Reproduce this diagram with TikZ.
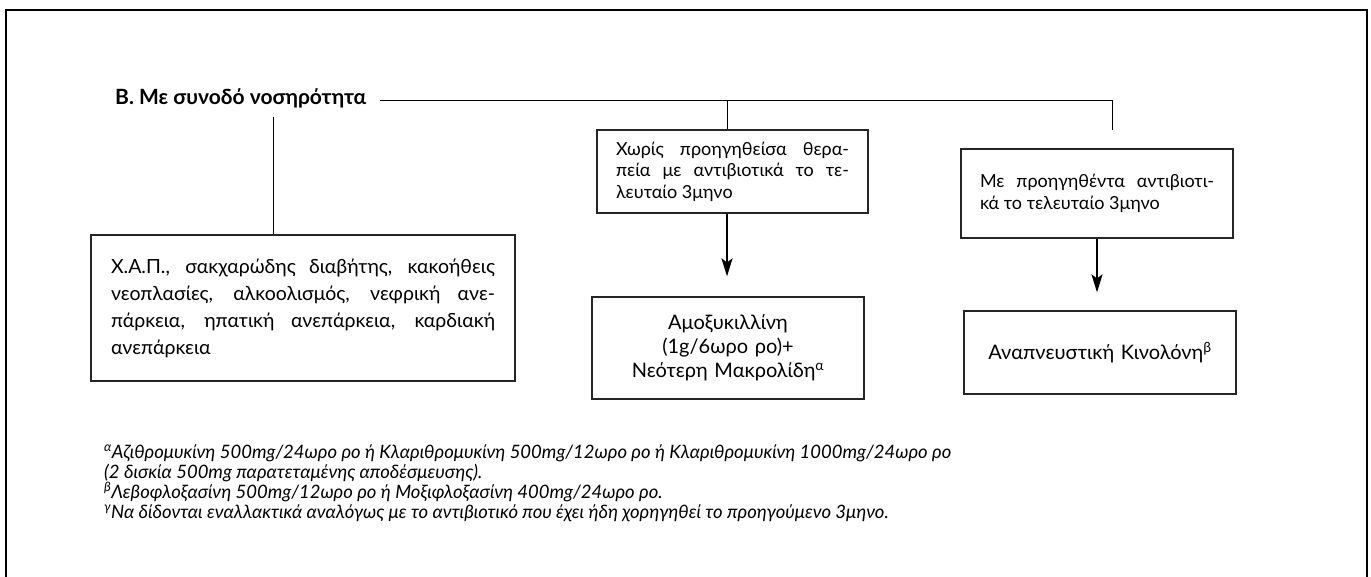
\documentclass[tikz,border=0pt]{standalone}
\usepackage{fontspec}
\setmainfont{Lato}
\usetikzlibrary{arrows.meta,positioning}
\tikzset{
  frame/.style={line width=1.4pt},
  link/.style={line width=1pt},
  box/.style={draw=black!85,line width=1.2pt,inner ysep=0pt,font=\fontsize{18}{21.5}\selectfont},
  pointer/.style={line width=2.2pt,-{Stealth[length=18pt,width=11pt,inset=4pt]},shorten >=20pt},
  heading/.style={inner sep=0pt,font=\fontsize{21}{24}\selectfont\bfseries},
  notes/.style={inner sep=0pt,align=left,font=\fontsize{18.5}{20}\selectfont\itshape}
}
\begin{document}
\begin{tikzpicture}[x=1pt,y=-1pt]
\useasboundingbox (0,0) rectangle (1371,577);
\draw[frame] (6,577)--(6,10)--(1367,10)--(1367,577);
\node[heading,anchor=base west] (head) at (115,105) {Β. Με συνοδό νοσηρότητα};
\coordinate (split) at (727,101);
\coordinate (corner) at (1112,101);
\coordinate (drop) at (273,117);
\coordinate (stop) at (1112,130);
\node[box,text width=384pt,inner xsep=20pt,minimum height=146pt,align=justify,font=\fontsize{19.5}{27}\selectfont] (risk) at (303,308)
  {Χ.Α.Π., σακχαρώδης διαβήτης, κακοήθεις\linebreak νεοπλασίες, αλκοολισμός, νεφρική ανε-\linebreak πάρκεια, ηπατική ανεπάρκεια, καρδιακή\linebreak ανεπάρκεια};
\node[box,text width=233pt,inner xsep=19pt,minimum height=83pt,align=justify] (naive) at (732.5,171.5)
  {Χωρίς προηγηθείσα θερα-\linebreak πεία με αντιβιοτικά το τε-\linebreak λευταίο 3μηνο};
\node[box,text width=234pt,inner xsep=19pt,minimum height=89pt,align=justify] (treated) at (1097,193.5)
  {Με προηγηθέντα αντιβιοτι-\linebreak κά το τελευταίο 3μηνο};
\node[box,text width=240pt,inner xsep=16pt,minimum height=102pt,align=center,font=\fontsize{20}{24}\selectfont] (amox) at (728,348)
  {Αμοξυκιλλίνη\\(1g/6ωρο ρο)+\\Νεότερη Μακρολίδη\textsuperscript{α}};
\node[box,text width=240pt,inner xsep=16pt,minimum height=83pt,align=center,font=\fontsize{20}{24}\selectfont] (quin) at (1100,352.5)
  {Αναπνευστική Κινολόνη\textsuperscript{β}};
\draw[link,shorten <=14pt] (head.east |- split)--(corner)--(stop);
\draw[link] (split)--(split |- naive.north);
\draw[link] (drop)--(drop |- risk.north);
\draw[pointer] (split |- naive.south)--(split |- amox.north);
\draw[pointer,shorten >=18pt] (treated.south)--(treated.south |- quin.north);
\node[notes,anchor=north west] (foot) at (104,444)
  {\textsuperscript{α}Αζιθρομυκίνη 500mg/24ωρο ρο ή Κλαριθρομυκίνη 500mg/12ωρο ρο ή Κλαριθρομυκίνη 1000mg/24ωρο ρο\\
   (2 δισκία 500mg παρατεταμένης αποδέσμευσης).\\
   \textsuperscript{β}Λεβοφλοξασίνη 500mg/12ωρο ρο ή Μοξιφλοξασίνη 400mg/24ωρο ρο.\\
   \textsuperscript{γ}Να δίδονται εναλλακτικά αναλόγως με το αντιβιοτικό που έχει ήδη χορηγηθεί το προηγούμενο 3μηνο.};
\end{tikzpicture}
\end{document}
